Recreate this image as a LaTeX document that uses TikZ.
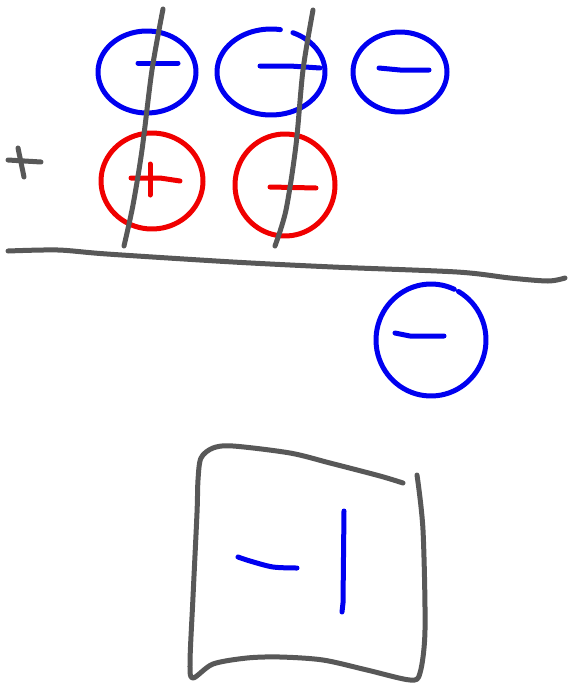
\documentclass[tikz,border=0pt]{standalone}
\definecolor{pen}{HTML}{585858}
\definecolor{bluepen}{HTML}{0000F0}
\definecolor{redpen}{HTML}{F00000}
\tikzset{
  stroke/.style={line width=5pt, line cap=round, line join=round},
  graypen/.style={stroke, draw=pen},
  bpen/.style={stroke, draw=bluepen},
  rpen/.style={stroke, draw=redpen},
}
\begin{document}
\begin{tikzpicture}[x=1pt,y=-1pt]
\useasboundingbox (0,0) rectangle (568,686);
% blue circles top row
\draw[bpen] plot[domain=0:360, samples=80, smooth] ({147+49*cos(\x)},{72+41*sin(\x)}) -- cycle;
\draw[bpen] (138,63) -- (178,63);
\draw[bpen] plot[domain=-66:280, samples=80, smooth] ({271+54*cos(\x)},{72+43*sin(\x)});
\draw[bpen] (260,66) -- (290,66) -- (320,68);
\draw[bpen] plot[domain=0:360, samples=80, smooth] ({400+47*cos(\x)},{72+40*sin(\x)}) -- cycle;
\draw[bpen] (379,68) -- (400,70) -- (429,70);
% red circles
\draw[rpen] plot[domain=0:360, samples=80, smooth] ({152+51*cos(\x)},{181+48*sin(\x)}) -- cycle;
\draw[rpen] (131,178) -- (160,178) -- (180,181);
\draw[rpen] (150,164) -- (150,195);
\draw[rpen] plot[domain=0:360, samples=80, smooth] ({285+50*cos(\x)},{185+51*sin(\x)}) -- cycle;
\draw[rpen] (270,187) -- (316,188);
% gray slashes
\draw[graypen] plot[smooth] coordinates {(163,9) (152,70) (142,150) (133,205) (124,246)};
\draw[graypen] plot[smooth] coordinates {(313,10) (303,70) (296,145) (286,210) (275,246)};
% small plus at left
\draw[graypen] (8,160) -- (41,162);
\draw[graypen] (18,148) -- (24,177);
% horizontal line
\draw[graypen] plot[smooth, tension=0.5] coordinates {(8,251) (58,250) (107,254) (233,262) (333,267) (457,272) (510,278) (548,281) (565,278)};
% blue circle below line
\draw[bpen] plot[domain=-60:295, samples=80, smooth] ({431+55*cos(\x)},{340+56*sin(\x)});
\draw[bpen] (395,333) -- (410,336) -- (444,336);
% box
\draw[graypen] plot[smooth, tension=0.5] coordinates {(403,483) (380,476) (330,463) (290,453) (233,446) (213,448) (201,458) (198,480) (197,513) (193,597) (190,663) (193,678) (213,664) (247,658) (280,657) (323,660) (367,670) (410,680) (420,673) (425,630) (423,530) (417,475)};
% -1 inside box
\draw[bpen] plot[smooth, tension=0.5] coordinates {(238,557) (250,561) (273,567) (297,568)};
\draw[bpen] (344,511) -- (343,603) -- (342,612);
\end{tikzpicture}
\end{document}
